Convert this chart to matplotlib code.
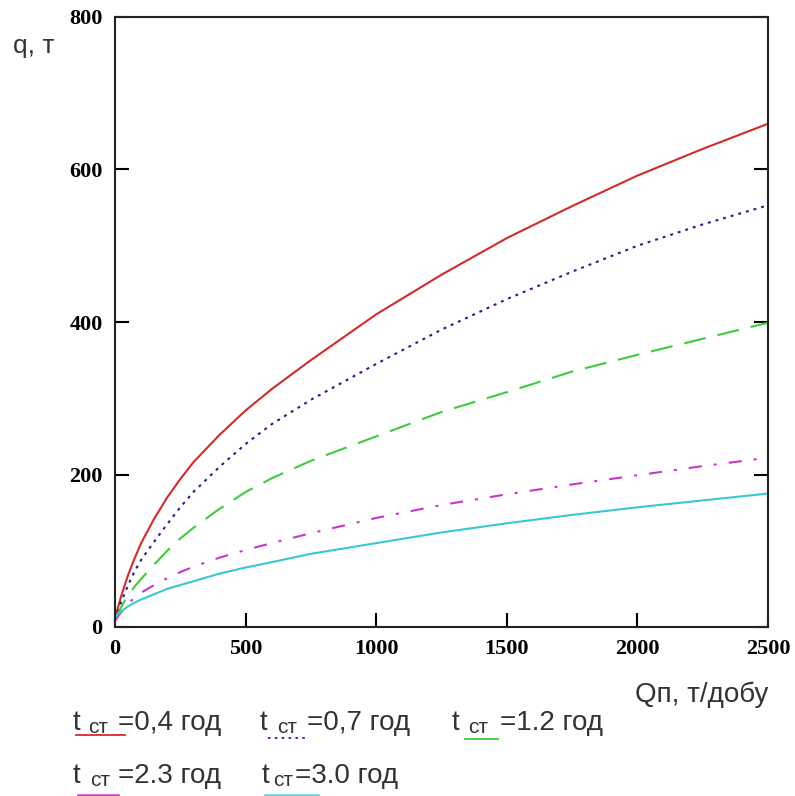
import matplotlib
matplotlib.use('Agg')
import matplotlib.pyplot as plt
from matplotlib.lines import Line2D

# Q, t/dobu  (x values)
Q = [0, 10, 25, 50, 75, 100, 150, 200, 250, 300, 400, 500, 600, 750, 1000, 1250, 1500, 1750, 2000, 2250, 2500]

# q, t for each t_ст
q_04 = [10, 24, 42, 68, 90, 110, 142, 170, 194, 216, 252, 284, 312, 350, 410, 462, 510, 552, 592, 627, 660]
q_07 = [10, 20, 34, 55, 73, 88, 112, 135, 157, 177, 210, 240, 266, 298, 345, 390, 430, 466, 500, 528, 553]
q_12 = [10, 17, 27, 42, 53, 63, 82, 100, 116, 130, 155, 177, 195, 218, 250, 282, 308, 335, 357, 378, 399]
q_23 = [8, 13, 20, 31, 38, 45, 55, 64, 72, 79, 91, 101, 110, 123, 143, 160, 174, 187, 199, 211, 222]
q_30 = [12, 16, 21, 27, 32, 36, 43, 50, 55, 60, 70, 78, 85, 96, 110, 124, 136, 147, 157, 166, 175]

x_ticks = [0, 500, 1000, 1500, 2000, 2500]
y_ticks = [0, 200, 400, 600, 800]

W, H = 795, 796
fig = plt.figure(figsize=(W / 100, H / 100), dpi=100)
ax = fig.add_axes([115 / W, 1 - 627 / H, 653 / W, 610 / H])

ax.plot(Q, q_04, color='#d42a2a', lw=1.5, ls='-')
ax.plot(Q, q_07, color='#202090', lw=1.5, ls=(0, (1.4, 2.4)))
ax.plot(Q, q_12, color='#3ccc3c', lw=1.5, ls=(0, (10.6, 5.8)))
ax.plot(Q, q_23, color='#cc33cc', lw=1.5, ls=(0, (6.3, 5.8, 1.4, 5.8)))
ax.plot(Q, q_30, color='#38c8d0', lw=1.5, ls='-')

ax.set_xlim(0, 2500)
ax.set_ylim(0, 800)
ax.set_xticks(x_ticks)
ax.set_yticks(y_ticks)
tick_font = dict(family='Liberation Serif', weight='bold', size=16)
ax.set_xticklabels([str(v) for v in x_ticks], **tick_font)
ax.set_yticklabels([str(v) for v in y_ticks], **tick_font)
ax.tick_params(direction='in', length=10, width=1.5, color='black',
               left=True, right=True, bottom=True, top=False)
ax.tick_params(axis='x', pad=9)
ax.tick_params(axis='y', pad=9)
for s in ax.spines.values():
    s.set_linewidth(1.5)
    s.set_color('#222222')

sans = 'Liberation Sans'
tc = '#333333'

def px(x, y):
    return x / W, 1 - y / H

fig.text(*px(13, 53), 'q, т', family=sans, size=19, color=tc, va='baseline')
fig.text(*px(635, 702), 'Qп, т/добу', family=sans, size=20, color=tc, va='baseline')

# legend: "t ст =..." with the line sample under it
legend = [
    (73, 88, 118, 730, '=0,4 год', '#d42a2a', '-', 76, 125, 735),
    (260, 277, 307, 730, '=0,7 год', '#2020c0', (0, (1.4, 2.4)), 268, 307, 738),
    (452, 468, 500, 730, '=1.2 год', '#3ccc3c', '-', 465, 498, 739),
    (73, 90, 118, 783, '=2.3 год', '#cc44cc', '-', 80, 117, 797),
    (262, 273, 295, 783, '=3.0 год', '#66d8e0', '-', 267, 317, 797),
]
for tx, sx, rx, by, rest, col, ls, lx0, lx1, ly in legend:
    fig.text(*px(tx, by), 't', family=sans, size=20, color=tc, va='baseline')
    fig.text(*px(sx, by + 3), 'ст', family=sans, size=15, color=tc, va='baseline')
    fig.text(*px(rx, by), rest, family=sans, size=20, color=tc, va='baseline')
    lw = 1.3 if ly < 790 else 4
    fig.add_artist(Line2D([lx0 / W, lx1 / W], [1 - ly / H, 1 - ly / H],
                          color=col, lw=lw, ls=ls, transform=fig.transFigure))

fig.savefig('out.png', dpi=100)
